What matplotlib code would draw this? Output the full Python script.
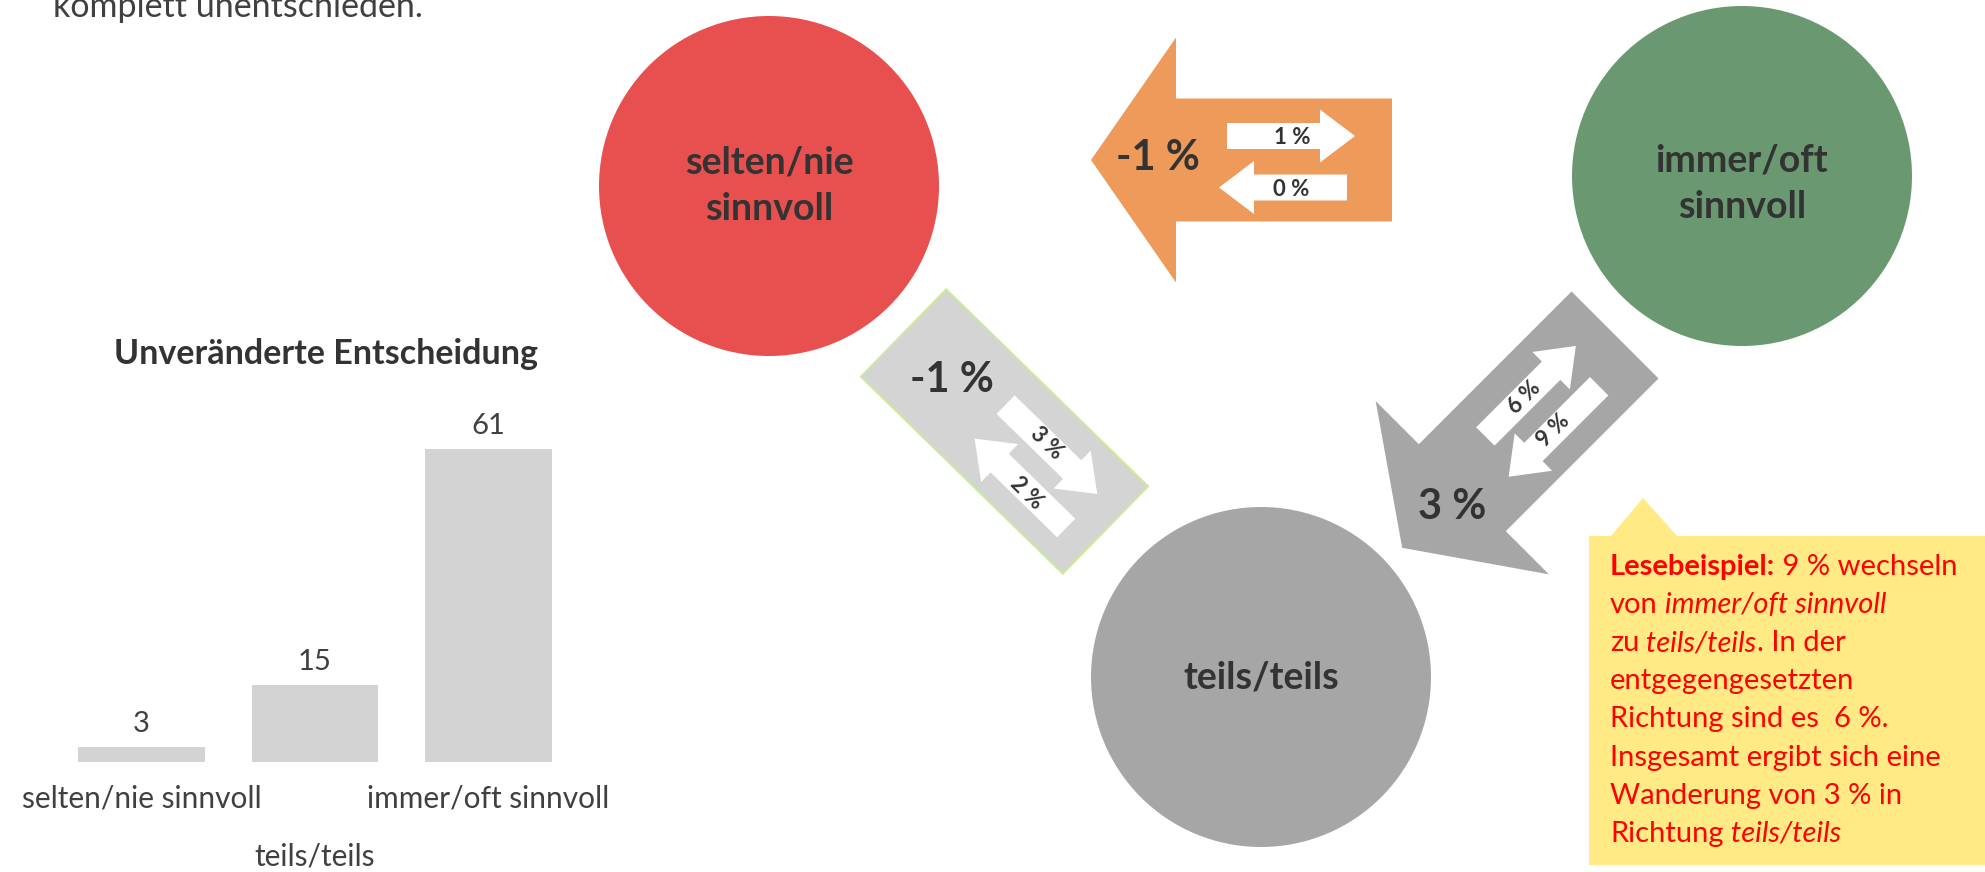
import numpy as np
import matplotlib
matplotlib.use('Agg')
import matplotlib.pyplot as plt
from matplotlib.patches import Circle, Polygon

plt.rcParams['font.family'] = ['Lato', 'DejaVu Sans']

# Daten
kategorien = ['selten/nie sinnvoll', 'teils/teils', 'immer/oft sinnvoll']
unveraendert = [3, 15, 61]
kreis_labels = ['selten/nie\nsinnvoll', 'teils/teils', 'immer/oft\nsinnvoll']
# Verbindungen: selten<->immer (orange), selten<->teils (Box), immer<->teils (grau)
saldo = ['-1 %', '-1 %', '3 %']
fluss_a = ['1 %', '3 %', '6 %']
fluss_b = ['0 %', '2 %', '9 %']

W, H = 1985, 872
DUNKEL = '#333333'
ROT = '#FF0000'


def pfeil(cx, cy, winkel, laenge, breite, kopf_breite, kopf_laenge):
    # Blockpfeil in Bildkoordinaten (y nach unten), Spitze zeigt in Richtung winkel
    a = laenge / 2
    h = a - kopf_laenge
    b = breite / 2
    k = kopf_breite / 2
    lokal = np.array([[-a, -b], [h, -b], [h, -k], [a, 0], [h, k], [h, b], [-a, b]])
    w = np.deg2rad(winkel)
    u = np.array([np.cos(w), np.sin(w)])
    v = np.array([-np.sin(w), np.cos(w)])
    return np.array([cx, cy]) + lokal[:, :1] * u + lokal[:, 1:] * v


def klein(cx, cy, winkel):
    return pfeil(cx, cy, winkel, 128, 26, 53, 35)


fig = plt.figure(figsize=(W / 100, H / 100), dpi=100)
ax = fig.add_axes([0, 0, 1, 1])
ax.set_xlim(0, W)
ax.set_ylim(H, 0)
ax.axis('off')

# abgeschnittener Text oben links
ax.text(53, 17, 'komplett unentschieden.', fontsize=24.5, color='#404040', va='baseline')

# Kreise (x, y, Textversatz, Farbe)
kreise = [(769, 186, 0, '#E84F4F'), (1261, 677, 0, '#A6A6A6'), (1742, 176, 8, '#6A9870')]
for (x, y, dy, farbe), lab in zip(kreise, kreis_labels):
    ax.add_patch(Circle((x, y), 170, color=farbe, lw=0))
    ax.text(x, y + dy, lab, ha='center', va='center', fontsize=27, fontweight='bold',
            color=DUNKEL, linespacing=1.45)

# orange Pfeil selten <- immer
ax.add_patch(Polygon(pfeil(1241.5, 160, 180, 301, 123, 245, 85), color='#EE9A5A', lw=0))
ax.add_patch(Polygon(klein(1291, 136, 0), color='white', lw=0))
ax.add_patch(Polygon(klein(1283, 187.5, 180), color='white', lw=0))
ax.text(1158, 158, saldo[0], fontsize=30, fontweight='bold', color=DUNKEL, ha='center', va='center')
ax.text(1292, 138, fluss_a[0], fontsize=16, fontweight='bold', color=DUNKEL, ha='center', va='center')
ax.text(1291, 189, fluss_b[0], fontsize=16, fontweight='bold', color=DUNKEL, ha='center', va='center')

# hellgraue Box selten <-> teils
ax.add_patch(Polygon(pfeil(1004.5, 431.5, 44.3, 282, 122, 122, 0), facecolor='#D4D4D4',
                     edgecolor='#CDE8A0', lw=1.5))
ax.add_patch(Polygon(klein(1051.4, 449.3, 44.3), color='white', lw=0))
ax.add_patch(Polygon(klein(1020.4, 483.3, 224.3), color='white', lw=0))
ax.text(952, 380, saldo[1], fontsize=30, fontweight='bold', color=DUNKEL, ha='center', va='center')
ax.text(1047, 443, fluss_a[1], fontsize=16, fontweight='bold', color=DUNKEL, ha='center',
        va='center', rotation=-44.3, rotation_mode='anchor')
ax.text(1027, 493, fluss_b[1], fontsize=16, fontweight='bold', color=DUNKEL, ha='center',
        va='center', rotation=-44.3, rotation_mode='anchor')

# grauer Pfeil immer -> teils
ax.add_patch(Polygon(pfeil(1508.6, 441.4, 135, 301, 123, 245, 85), color='#A6A6A6', lw=0))
ax.add_patch(Polygon(klein(1530.6, 391.2, -45), color='white', lw=0))
ax.add_patch(Polygon(klein(1553.9, 431.5, 135), color='white', lw=0))
ax.text(1452, 507, saldo[2], fontsize=30, fontweight='bold', color=DUNKEL, ha='center', va='center')
ax.text(1524, 397, fluss_a[2], fontsize=16, fontweight='bold', color=DUNKEL, ha='center',
        va='center', rotation=45, rotation_mode='anchor')
ax.text(1553, 430, fluss_b[2], fontsize=16, fontweight='bold', color=DUNKEL, ha='center',
        va='center', rotation=45, rotation_mode='anchor')

# Lesebeispiel
ax.add_patch(Polygon([[1589, 536], [1611, 536], [1643, 498], [1677, 536], [1990, 536],
                      [1990, 865], [1589, 865]], color='#FFEA85', lw=0))
zeilen = [
    [('Lesebeispiel:', 'bold', 'normal'), (' 9 % wechseln', 'normal', 'normal')],
    [('von', 'normal', 'normal'), (' immer/oft sinnvoll', 'normal', 'italic')],
    [('zu', 'normal', 'normal'), (' teils/teils', 'normal', 'italic'), ('. In der', 'normal', 'normal')],
    [('entgegengesetzten', 'normal', 'normal')],
    [('Richtung sind es  6 %.', 'normal', 'normal')],
    [('Insgesamt ergibt sich eine', 'normal', 'normal')],
    [('Wanderung von 3 % in', 'normal', 'normal')],
    [('Richtung', 'normal', 'normal'), (' teils/teils', 'normal', 'italic')],
]
for i, teile in enumerate(zeilen):
    y = 575 + 38.1 * i
    vorher = None
    for txt, gewicht, stil in teile:
        if vorher is None:
            vorher = ax.text(1610, y, txt, fontsize=21, color=ROT, fontweight=gewicht,
                             fontstyle=stil, va='baseline')
        else:
            vorher = ax.annotate(txt, xy=(1, 0), xycoords=vorher, fontsize=21, color=ROT,
                                 fontweight=gewicht, fontstyle=stil, va='bottom', ha='left')

# Balkendiagramm
ax.text(326, 354, 'Unveränderte Entscheidung', fontsize=24.5, fontweight='bold', color='#333333',
        ha='center', va='center')
bx = fig.add_axes([54.75 / W, (H - 762) / H, 520.5 / W, 359 / H])
pos = np.arange(len(kategorien))
balken = bx.bar(pos, unveraendert, width=0.73, color='#D3D3D3')
bx.bar_label(balken, labels=[str(v) for v in unveraendert], padding=7, fontsize=21, color='#404040')
bx.set_xlim(-0.5, 2.5)
bx.set_ylim(0, 70)
bx.set_xticks(pos)
bx.set_xticklabels(kategorien, fontsize=21.5, color='#404040')
bx.tick_params(axis='x', length=0, pad=16)
bx.xaxis.get_major_ticks()[1].set_pad(58)
bx.set_yticks([])
for s in bx.spines.values():
    s.set_visible(False)
bx.patch.set_alpha(0)

fig.savefig('out.png', dpi=100)
